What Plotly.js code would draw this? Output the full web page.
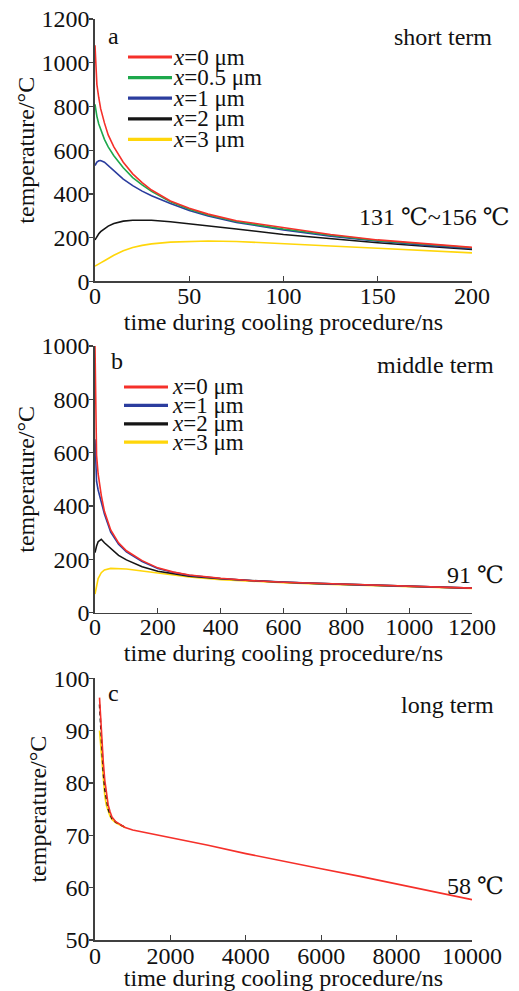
<!DOCTYPE html>
<html>
<head>
<meta charset="utf-8">
<script src="https://cdn.plot.ly/plotly-3.0.1.min.js"></script>
<style>html,body{margin:0;padding:0;background:#fff;}#chart{width:519px;height:991px;}</style>
</head>
<body>
<div id="chart"></div>
<script>
// ---------- DATA ----------
// Panel a: short term (0-200 ns)
const tA = [0, 0.5, 1, 2, 3, 5, 7, 10, 15, 20, 25, 30, 40, 50, 60, 75, 100, 125, 150, 175, 200];
const aRed    = [1080, 960, 900, 840, 790, 725, 670, 615, 545, 492, 452, 418, 368, 335, 308, 278, 245, 215, 190, 172, 156];
const aGreen  = [810, 780, 755, 720, 695, 650, 615, 575, 520, 475, 442, 412, 364, 330, 304, 274, 240, 211, 187, 169, 154];
const aBlue   = [530, 540, 546, 552, 553, 545, 530, 505, 468, 438, 413, 392, 356, 324, 299, 270, 236, 207, 184, 166, 151];
const aBlack  = [190, 198, 205, 218, 228, 242, 253, 265, 276, 280, 281, 280, 273, 264, 255, 240, 215, 195, 177, 161, 147];
const aYellow = [70, 73, 75, 80, 85, 95, 105, 120, 140, 155, 165, 172, 180, 183, 185, 183, 174, 162, 152, 141, 131];

// Panel b: middle term (0-1200 ns)
const tB = [0, 2, 5, 10, 20, 30, 50, 75, 100, 150, 200, 250, 300, 400, 500, 600, 700, 800, 900, 1000, 1100, 1200];
const bRed    = [1000, 690, 590, 520, 440, 380, 310, 262, 232, 195, 168, 152, 141, 129, 120, 114, 110, 106, 102, 99, 95, 92];
const bBlue   = [650, 530, 492, 460, 415, 370, 302, 257, 228, 192, 166, 151, 140, 128, 120, 114, 110, 106, 102, 99, 95, 92];
const bBlack  = [225, 236, 250, 266, 275, 262, 240, 215, 198, 172, 155, 145, 137, 127, 120, 114, 110, 106, 102, 99, 95, 92];
const bYellow = [70, 85, 105, 128, 150, 160, 166, 166, 164, 156, 148, 140, 134, 124, 117, 112, 108, 105, 101, 98, 94, 91];

// Panel c: long term (0-10000 ns)
const tC = [120, 150, 180, 220, 260, 300, 350, 400, 450, 550, 650, 800, 1000, 1500, 2000, 3000, 4000, 5000, 6000, 7000, 8000, 9000, 10000];
const cRed = [96.3, 92, 88.5, 84, 80.5, 78, 75.8, 74.5, 73.5, 72.6, 72.1, 71.5, 71.0, 70.3, 69.6, 68.1, 66.5, 65.0, 63.6, 62.2, 60.7, 59.2, 57.7];
const tCEarly = [120, 150, 180, 220, 260, 300, 350, 400, 450, 550, 650, 800];
const cBlack  = [95, 90.5, 86.5, 82, 78.8, 76.8, 75.0, 74.0, 73.2, 72.5, 72.1, 71.5];
const cYellow = [90, 87, 84, 80.5, 77.5, 75.8, 74.5, 73.6, 73.0, 72.4, 72.0, 71.5];

// Labels
const namesA = ['<i>x</i>=0 μm', '<i>x</i>=0.5 μm', '<i>x</i>=1 μm', '<i>x</i>=2 μm', '<i>x</i>=3 μm'];
const namesB = ['<i>x</i>=0 μm', '<i>x</i>=1 μm', '<i>x</i>=2 μm', '<i>x</i>=3 μm'];
const xTitle = 'time during cooling procedure/ns';
const yTitle = 'temperature/°C';
const ticksA_x = [0, 50, 100, 150, 200];
const ticksA_y = [0, 200, 400, 600, 800, 1000, 1200];
const ticksB_x = [0, 200, 400, 600, 800, 1000, 1200];
const ticksB_y = [0, 200, 400, 600, 800, 1000];
const ticksC_x = [0, 2000, 4000, 6000, 8000, 10000];
const ticksC_y = [50, 60, 70, 80, 90, 100];

// ---------- STYLE ----------
const RED = '#f5302a', GREEN = '#1ea84c', BLUE = '#2b3d9e', BLACK = '#151515', YELLOW = '#ffd60a';
const colorsA = [RED, GREEN, BLUE, BLACK, YELLOW];
const colorsB = [RED, BLUE, BLACK, YELLOW];
const FONT = 'Liberation Serif, DejaVu Serif, serif';
const AX = '#404040';
const W = 519, H = 991, ML = 95, MR = 47, MT = 19, MB = 51;
const PW = W - ML - MR, PH = H - MT - MB;
const px2x = p => (p - ML) / PW;
const px2y = p => (H - MB - p) / PH;

function line(x, y, color, xa, ya, extra) {
  return Object.assign({x: x, y: y, xaxis: xa, yaxis: ya, type: 'scatter', mode: 'lines',
    line: {color: color, width: 1.6}, showlegend: false, hoverinfo: 'skip'}, extra || {});
}

const traces = [
  line(tA, aYellow, YELLOW, 'x', 'y'),
  line(tA, aBlack, BLACK, 'x', 'y'),
  line(tA, aBlue, BLUE, 'x', 'y'),
  line(tA, aGreen, GREEN, 'x', 'y'),
  line(tA, aRed, RED, 'x', 'y'),
  line(tB, bYellow, YELLOW, 'x2', 'y2'),
  line(tB, bBlack, BLACK, 'x2', 'y2'),
  line(tB, bBlue, BLUE, 'x2', 'y2'),
  line(tB, bRed, RED, 'x2', 'y2'),
  line(tCEarly, cYellow, YELLOW, 'x3', 'y3'),
  line(tCEarly, cBlack, BLACK, 'x3', 'y3', {line: {color: BLACK, width: 1.6, dash: '4px,3px'}}),
  line(tC, cRed, RED, 'x3', 'y3')
];

function xaxis(range, ticks, anchor, lblOff, titleOff) {
  return {range: range, tickmode: 'array', tickvals: ticks, ticktext: ticks.map(String),
    showline: true, linecolor: AX, linewidth: 1.6, ticks: 'inside', ticklen: 5, tickcolor: AX, tickwidth: 1.2,
    showgrid: false, zeroline: false, anchor: anchor, domain: [0, 1], ticklabelstandoff: lblOff,
    tickfont: {family: FONT, size: 24, color: '#111'},
    title: {text: xTitle, font: {family: FONT, size: 24, color: '#111'}, standoff: titleOff}};
}
function yaxis(range, ticks, domain, anchor) {
  return {range: range, tickmode: 'array', tickvals: ticks, ticktext: ticks.map(String),
    showline: true, linecolor: AX, linewidth: 1.6, ticks: 'outside', ticklen: 4, tickcolor: AX, tickwidth: 1.2,
    showgrid: false, zeroline: false, anchor: anchor, domain: domain, ticklabelstandoff: -5,
    tickfont: {family: FONT, size: 24, color: '#111'},
    title: {text: yTitle, font: {family: FONT, size: 24, color: '#111'}, standoff: 0}};
}

const annotations = [];
const shapes = [];
function txt(text, xp, yp, xanchor, size) {
  annotations.push({text: text, x: px2x(xp), y: px2y(yp), xref: 'paper', yref: 'paper',
    xanchor: xanchor, yanchor: 'middle', showarrow: false,
    font: {family: FONT, size: size || 24, color: '#111'}});
}
// panel labels & notes
txt('a', 106, 36, 'left');
txt('short term', 494, 37, 'right');
txt('131 ℃~156 ℃', 512, 217, 'right');
txt('b', 109, 361, 'left');
txt('middle term', 496, 365, 'right');
txt('91 ℃', 506, 575, 'right');
txt('c', 106, 693, 'left');
txt('long term', 496, 705, 'right');
txt('58 ℃', 506, 886, 'right');

// legends (keys built from series names/colours)
function legend(names, colors, x0, x1, xt, y0, gap) {
  names.forEach((n, i) => {
    const yy = px2y(y0 + i * gap);
    shapes.push({type: 'line', xref: 'paper', yref: 'paper', x0: px2x(x0), x1: px2x(x1), y0: yy, y1: yy,
      line: {color: colors[i], width: 3.2}});
    annotations.push({text: n, x: px2x(xt), y: yy, xref: 'paper', yref: 'paper', xanchor: 'left', yanchor: 'middle',
      showarrow: false, font: {family: FONT, size: 23, color: '#111'}});
  });
}
legend(namesA, colorsA, 128, 172, 171, 57, 20.6);
legend(namesB, colorsB, 124, 168, 170, 387, 18.4);

const layout = {
  width: W, height: H, margin: {l: ML, r: MR, t: MT, b: MB},
  paper_bgcolor: '#fff', plot_bgcolor: '#fff', showlegend: false,
  font: {family: FONT, size: 24, color: '#111'},
  xaxis: xaxis([0, 200], ticksA_x, 'y', -8, 2),
  yaxis: yaxis([0, 1200], ticksA_y, [0.715, 1.0], 'x'),
  xaxis2: xaxis([0, 1200], ticksB_x, 'y2', -8, 2),
  yaxis2: yaxis([0, 1000], ticksB_y, [0.3554, 0.645], 'x2'),
  xaxis3: xaxis([0, 10000], ticksC_x, 'y3', -6, 9),
  yaxis3: yaxis([50, 100], ticksC_y, [0, 0.2842], 'x3'),
  annotations: annotations, shapes: shapes
};

Plotly.newPlot('chart', traces, layout, {displayModeBar: false, staticPlot: true});
</script>
</body>
</html>
